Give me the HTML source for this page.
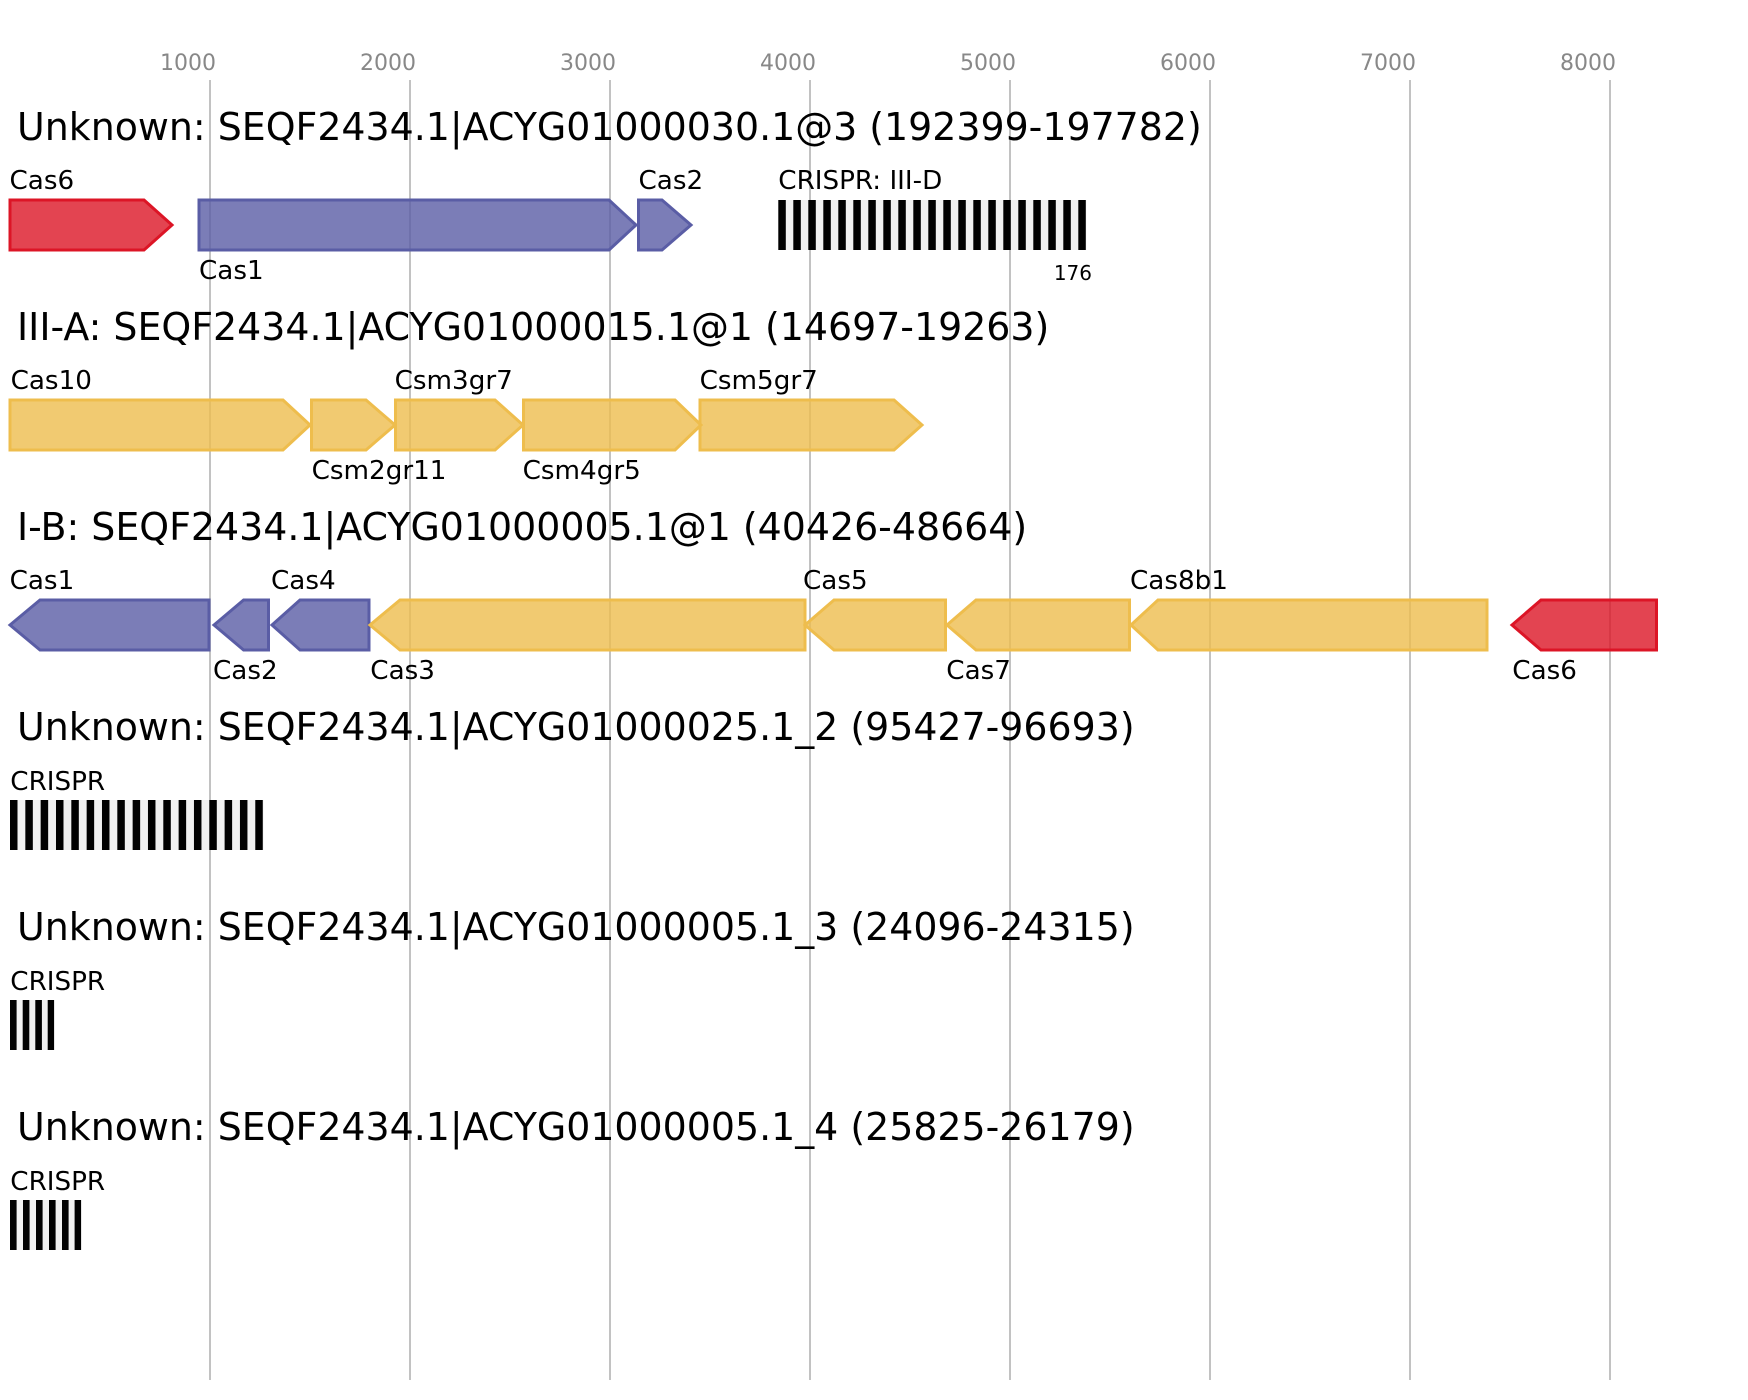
<!DOCTYPE html>
<html>
<head>
<meta charset="utf-8">
<style>
html,body{margin:0;padding:0;background:#fff;}
svg{display:block;}
text{font-family:"DejaVu Sans","Liberation Sans",sans-serif;}
.t{font-size:37.9px;fill:#000;}
.l{font-size:26.2px;fill:#000;}
.ax{font-size:22px;fill:#888;}
.r{fill:#DC1526;fill-opacity:0.8;stroke:#DC1526;stroke-width:3;}
.b{fill:#5A5DA5;fill-opacity:0.8;stroke:#5A5DA5;stroke-width:3;}
.y{fill:#EEBD4D;fill-opacity:0.8;stroke:#EEBD4D;stroke-width:3;}
.g{stroke:#c2c2c2;stroke-width:2;}
</style>
</head>
<body>
<svg width="1748" height="1400" viewBox="0 0 1748 1400" xmlns="http://www.w3.org/2000/svg">
<rect x="0" y="0" width="1748" height="1400" fill="#fff"/>
<!-- grid -->
<g class="g">
<line x1="210" y1="80" x2="210" y2="1380"/>
<line x1="410" y1="80" x2="410" y2="1380"/>
<line x1="610" y1="80" x2="610" y2="1380"/>
<line x1="810" y1="80" x2="810" y2="1380"/>
<line x1="1010" y1="80" x2="1010" y2="1380"/>
<line x1="1210" y1="80" x2="1210" y2="1380"/>
<line x1="1410" y1="80" x2="1410" y2="1380"/>
<line x1="1610" y1="80" x2="1610" y2="1380"/>
</g>
<g class="ax" text-anchor="end">
<text x="216" y="70">1000</text>
<text x="416" y="70">2000</text>
<text x="616" y="70">3000</text>
<text x="816" y="70">4000</text>
<text x="1016" y="70">5000</text>
<text x="1216" y="70">6000</text>
<text x="1416" y="70">7000</text>
<text x="1616" y="70">8000</text>
</g>

<!-- Row 1 -->
<text class="t" x="17" y="140">Unknown: SEQF2434.1|ACYG01000030.1@3 (192399-197782)</text>
<polygon class="r" points="10,200 144,200 172,225 144,250 10,250"/>
<polygon class="b" points="199,200 609,200 636,225 609,250 199,250"/>
<polygon class="b" points="638.5,200 662,200 691,225 662,250 638.5,250"/>
<text class="l" x="9.5" y="189">Cas6</text>
<text class="l" x="199" y="279">Cas1</text>
<text class="l" x="638.5" y="189">Cas2</text>
<text class="l" x="778.3" y="189">CRISPR: III-D</text>
<rect x="778.3" y="200" width="308" height="50" fill="#f0f0f0"/>
<g fill="#000">
<rect x="778.3" y="200" width="7.5" height="50"/>
<rect x="793.3" y="200" width="7.5" height="50"/>
<rect x="808.3" y="200" width="7.5" height="50"/>
<rect x="823.3" y="200" width="7.5" height="50"/>
<rect x="838.3" y="200" width="7.5" height="50"/>
<rect x="853.3" y="200" width="7.5" height="50"/>
<rect x="868.3" y="200" width="7.5" height="50"/>
<rect x="883.3" y="200" width="7.5" height="50"/>
<rect x="898.3" y="200" width="7.5" height="50"/>
<rect x="913.3" y="200" width="7.5" height="50"/>
<rect x="928.3" y="200" width="7.5" height="50"/>
<rect x="943.3" y="200" width="7.5" height="50"/>
<rect x="958.3" y="200" width="7.5" height="50"/>
<rect x="973.3" y="200" width="7.5" height="50"/>
<rect x="988.3" y="200" width="7.5" height="50"/>
<rect x="1003.3" y="200" width="7.5" height="50"/>
<rect x="1018.3" y="200" width="7.5" height="50"/>
<rect x="1033.3" y="200" width="7.5" height="50"/>
<rect x="1048.3" y="200" width="7.5" height="50"/>
<rect x="1063.3" y="200" width="7.5" height="50"/>
<rect x="1078.3" y="200" width="7.5" height="50"/>
</g>
<text x="1092" y="280" text-anchor="end" style="font-size:20px;fill:#000;">176</text>

<!-- Row 2 -->
<text class="t" x="17" y="340">III-A: SEQF2434.1|ACYG01000015.1@1 (14697-19263)</text>
<polygon class="y" points="10,400 283,400 310,425 283,450 10,450"/>
<polygon class="y" points="311.5,400 366,400 395,425 366,450 311.5,450"/>
<polygon class="y" points="395.5,400 495,400 523,425 495,450 395.5,450"/>
<polygon class="y" points="523.5,400 675,400 701,425 675,450 523.5,450"/>
<polygon class="y" points="700,400 894,400 922,425 894,450 700,450"/>
<text class="l" x="10.6" y="389">Cas10</text>
<text class="l" x="311.6" y="479">Csm2gr11</text>
<text class="l" x="394.6" y="389">Csm3gr7</text>
<text class="l" x="522.6" y="479">Csm4gr5</text>
<text class="l" x="699.6" y="389">Csm5gr7</text>

<!-- Row 3 -->
<text class="t" x="17" y="540">I-B: SEQF2434.1|ACYG01000005.1@1 (40426-48664)</text>
<polygon class="b" points="10,625 40,600 209,600 209,650 40,650"/>
<polygon class="b" points="214,625 243.6,600 268.5,600 268.5,650 243.6,650"/>
<polygon class="b" points="272,625 300,600 369,600 369,650 300,650"/>
<polygon class="y" points="370,625 400,600 805,600 805,650 400,650"/>
<polygon class="y" points="805,625 834,600 945.5,600 945.5,650 834,650"/>
<polygon class="y" points="947,625 976,600 1129.5,600 1129.5,650 976,650"/>
<polygon class="y" points="1131,625 1158,600 1487,600 1487,650 1158,650"/>
<polygon class="r" points="1512,625 1541,600 1656.5,600 1656.5,650 1541,650"/>
<text class="l" x="9.6" y="589">Cas1</text>
<text class="l" x="213" y="679">Cas2</text>
<text class="l" x="271" y="589">Cas4</text>
<text class="l" x="370.3" y="679">Cas3</text>
<text class="l" x="803" y="589">Cas5</text>
<text class="l" x="946.3" y="679">Cas7</text>
<text class="l" x="1130" y="589">Cas8b1</text>
<text class="l" x="1512.3" y="679">Cas6</text>

<!-- Row 4 -->
<text class="t" x="17" y="740">Unknown: SEQF2434.1|ACYG01000025.1_2 (95427-96693)</text>
<text class="l" x="10.3" y="790">CRISPR</text>
<rect x="10" y="800" width="253.5" height="50" fill="#f0f0f0"/>
<g fill="#000">
<rect x="10" y="800" width="7.5" height="50"/>
<rect x="25.33" y="800" width="7.5" height="50"/>
<rect x="40.66" y="800" width="7.5" height="50"/>
<rect x="55.99" y="800" width="7.5" height="50"/>
<rect x="71.32" y="800" width="7.5" height="50"/>
<rect x="86.65" y="800" width="7.5" height="50"/>
<rect x="101.98" y="800" width="7.5" height="50"/>
<rect x="117.31" y="800" width="7.5" height="50"/>
<rect x="132.64" y="800" width="7.5" height="50"/>
<rect x="147.97" y="800" width="7.5" height="50"/>
<rect x="163.3" y="800" width="7.5" height="50"/>
<rect x="178.63" y="800" width="7.5" height="50"/>
<rect x="193.96" y="800" width="7.5" height="50"/>
<rect x="209.29" y="800" width="7.5" height="50"/>
<rect x="224.62" y="800" width="7.5" height="50"/>
<rect x="239.95" y="800" width="7.5" height="50"/>
<rect x="255.28" y="800" width="7.5" height="50"/>
</g>

<!-- Row 5 -->
<text class="t" x="17" y="940">Unknown: SEQF2434.1|ACYG01000005.1_3 (24096-24315)</text>
<text class="l" x="10.3" y="990">CRISPR</text>
<rect x="10" y="1000" width="44" height="50" fill="#f0f0f0"/>
<g fill="#000">
<rect x="10" y="1000" width="6.6" height="50"/>
<rect x="22.7" y="1000" width="6.6" height="50"/>
<rect x="35.3" y="1000" width="6.6" height="50"/>
<rect x="47.7" y="1000" width="6.4" height="50"/>
</g>

<!-- Row 6 -->
<text class="t" x="17" y="1140">Unknown: SEQF2434.1|ACYG01000005.1_4 (25825-26179)</text>
<text class="l" x="10.3" y="1190">CRISPR</text>
<rect x="10" y="1200" width="71" height="50" fill="#f0f0f0"/>
<g fill="#000">
<rect x="10" y="1200" width="6.6" height="50"/>
<rect x="23" y="1200" width="6.6" height="50"/>
<rect x="36" y="1200" width="6.6" height="50"/>
<rect x="49" y="1200" width="6.6" height="50"/>
<rect x="62" y="1200" width="6.6" height="50"/>
<rect x="74.6" y="1200" width="6.5" height="50"/>
</g>
</svg>
</body>
</html>
